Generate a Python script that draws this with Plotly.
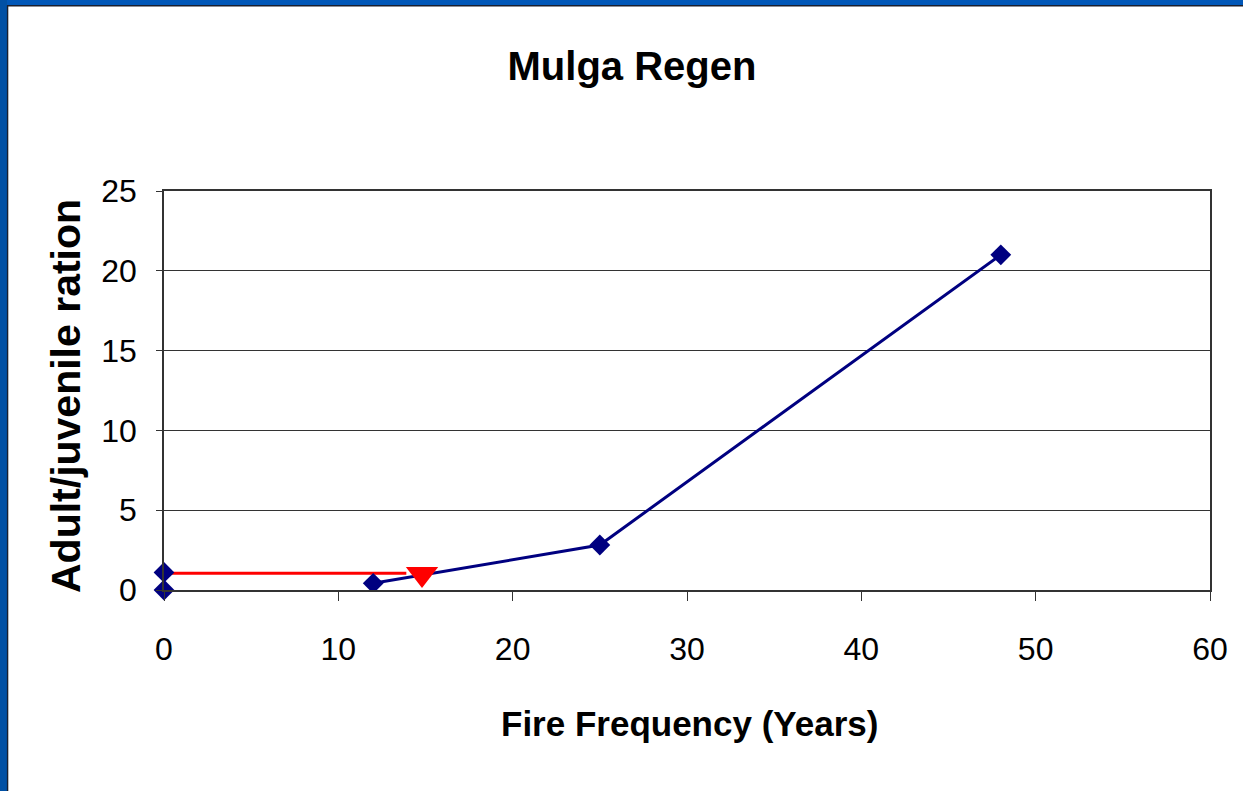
import plotly.graph_objects as go

# Data
x_zero = [0, 0]
y_zero = [0.0, 1.1]
x_series = [12, 25, 48]
y_series = [0.42, 2.82, 21.0]
x_red_line = [0, 13.9]
y_red_line = [1.05, 1.05]
x_marker = [14.8]
y_marker = [1.0]
x_ticks = [0, 10, 20, 30, 40, 50, 60]
y_ticks = [0, 5, 10, 15, 20, 25]

NAVY = "#000080"
RED = "#FF0000"
FONT = "Liberation Sans Narrow, Arial Narrow, Liberation Sans, Arial, sans-serif"

fig = go.Figure()
fig.add_trace(go.Scatter(x=x_red_line, y=y_red_line, mode="lines",
                         line=dict(color=RED, width=3), showlegend=False))
fig.add_trace(go.Scatter(x=x_series, y=y_series, mode="lines+markers",
                         line=dict(color=NAVY, width=3),
                         marker=dict(symbol="diamond", size=16, color=NAVY),
                         showlegend=False))
fig.add_trace(go.Scatter(x=x_zero, y=y_zero, mode="markers",
                         marker=dict(symbol="diamond", size=16, color=NAVY),
                         showlegend=False, cliponaxis=False))
fig.add_trace(go.Scatter(x=x_marker, y=y_marker, mode="markers",
                         marker=dict(symbol="triangle-down", size=28, color=RED),
                         showlegend=False, cliponaxis=False))

W, H = 1243, 791
L, R, T, B = 164, 33, 191, 201
pw, ph = W - L - R, H - T - B

def px(xp):
    return (xp - L) / pw

def py(yp):
    return (H - B - yp) / ph

BLUE_TOP = "#0157B8"
BLUE_LEFT = "#0150A4"
DARK = "#1A1F2E"

shapes = [
    dict(type="rect", xref="paper", yref="paper", x0=px(-5), x1=px(W + 5), y0=py(5), y1=py(-5),
         fillcolor=BLUE_TOP, line=dict(width=0), layer="above"),
    dict(type="rect", xref="paper", yref="paper", x0=px(-5), x1=px(7), y0=py(H + 5), y1=py(-5),
         fillcolor=BLUE_LEFT, line=dict(width=0), layer="above"),
    dict(type="line", xref="paper", yref="paper", x0=px(7), x1=px(W + 5), y0=py(5.7), y1=py(5.7),
         line=dict(color=DARK, width=1.4), layer="above"),
    dict(type="line", xref="paper", yref="paper", x0=px(7.6), x1=px(7.6), y0=py(H + 5), y1=py(5),
         line=dict(color=DARK, width=1.4), layer="above"),
]

fig.update_layout(
    width=W, height=H,
    margin=dict(l=L, r=R, t=T, b=B, autoexpand=False),
    paper_bgcolor="white", plot_bgcolor="white",
    font=dict(family=FONT, color="black"),
    title=dict(text="<b>Mulga Regen</b>", x=632 / W, xref="container", xanchor="center",
               y=1 - 66 / H, yref="container", yanchor="middle",
               font=dict(size=40, family=FONT, color="black")),
    shapes=shapes,
    annotations=[
        dict(text="<b>Fire Frequency (Years)</b>", xref="paper", yref="paper",
             x=px(689), y=py(723), xanchor="center", yanchor="middle", showarrow=False,
             font=dict(size=35, family=FONT, color="black")),
        dict(text="<b>Adult/juvenile ration</b>", xref="paper", yref="paper",
             x=px(66), y=py(396), xanchor="center", yanchor="middle", showarrow=False,
             textangle=-90, font=dict(size=41, family=FONT, color="black")),
    ],
)

fig.update_xaxes(range=[0, 60], tickvals=x_ticks, ticktext=[str(v) for v in x_ticks],
                 showgrid=False, zeroline=False, showline=True, linecolor="#333333", linewidth=1.5,
                 mirror=True, ticks="outside", ticklen=9, tickcolor="#333333", tickwidth=1.3,
                 tickfont=dict(size=32, family=FONT, color="black"), ticklabelstandoff=21)
fig.update_yaxes(range=[0, 25], tickvals=y_ticks, ticktext=[str(v) for v in y_ticks],
                 showgrid=True, gridcolor="#333333", gridwidth=1, zeroline=False,
                 showline=True, linecolor="#333333", linewidth=1.5, mirror=True,
                 ticks="outside", ticklen=6, tickcolor="#333333", tickwidth=1.3,
                 tickfont=dict(size=32, family=FONT, color="black"), ticklabelstandoff=13)

fig.write_html("out.html", config={"displayModeBar": False},
               post_script="document.body.style.margin='0';document.body.style.overflow='hidden';")
